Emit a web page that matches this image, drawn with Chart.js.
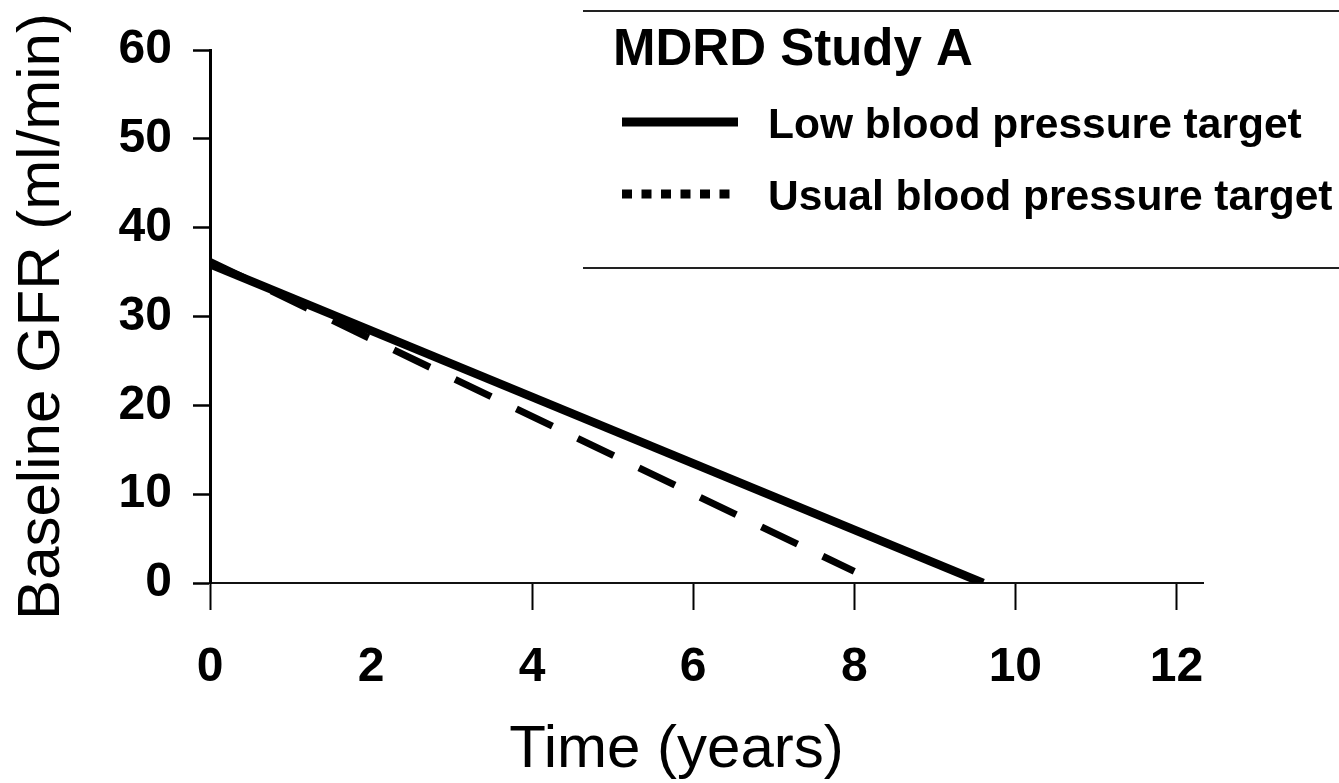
<!DOCTYPE html>
<html>
<head>
<meta charset="utf-8">
<script src="https://cdn.jsdelivr.net/npm/chart.js@4.4.1/dist/chart.umd.min.js"></script>
<style>
  body { margin: 0; background: #fff; }
  canvas { display: block; }
</style>
</head>
<body>
<canvas id="gfrChart" width="1339" height="783"></canvas>
<script>
// GFR decline over time, two blood pressure targets
const lowYears = [0, 9.6];
const lowGfr = [35.9, 0];
const usualYears = [0, 8.0];
const usualGfr = [36.2, 1.3];
const xTicks = [0, 2, 4, 6, 8, 10, 12];
const yTicks = [0, 10, 20, 30, 40, 50, 60];
const seriesLabels = ['Low blood pressure target', 'Usual blood pressure target'];
const legendTitle = 'MDRD Study A';

const FONT = '"Liberation Sans", Arial, sans-serif';

function toPoints(xs, ys) {
    return xs.map((x, i) => ({ x: x, y: ys[i] }));
}

// boxed legend in the upper right: title, solid sample, dotted sample
const legendBox = {
    id: 'legendBox',
    afterDraw(chart) {
        const ctx = chart.ctx;
        ctx.save();
        ctx.strokeStyle = '#222';
        ctx.lineWidth = 2;
        ctx.beginPath();
        ctx.moveTo(583, 11); ctx.lineTo(1339, 11);
        ctx.moveTo(583, 268); ctx.lineTo(1339, 268);
        ctx.stroke();

        ctx.fillStyle = '#000';
        ctx.textBaseline = 'alphabetic';
        ctx.font = 'bold 51px ' + FONT;
        ctx.fillText(legendTitle, 613, 65);

        const rows = [
            { y: 122, base: 138, dash: [] },
            { y: 194, base: 210, dash: [10, 9.5] }
        ];
        ctx.font = 'bold 42.5px ' + FONT;
        chart.data.datasets.forEach((ds, i) => {
            const r = rows[i];
            ctx.strokeStyle = '#000';
            ctx.lineWidth = 9;
            ctx.lineCap = 'butt';
            ctx.setLineDash(r.dash);
            ctx.beginPath();
            ctx.moveTo(622, r.y);
            ctx.lineTo(738, r.y);
            ctx.stroke();
            ctx.setLineDash([]);
            ctx.fillText(ds.label, 768, r.base);
        });
        ctx.restore();
    }
};

const chart = new Chart(document.getElementById('gfrChart').getContext('2d'), {
    type: 'line',
    data: {
        datasets: [{
            label: seriesLabels[0],
            data: toPoints(lowYears, lowGfr),
            borderColor: '#000',
            borderWidth: 8.5,
            pointRadius: 0,
            tension: 0
        }, {
            label: seriesLabels[1],
            data: toPoints(usualYears, usualGfr),
            borderColor: '#000',
            borderWidth: 7,
            borderDash: [40, 28],
            pointRadius: 0,
            tension: 0
        }]
    },
    options: {
        responsive: false,
        animation: false,
        layout: {
            padding: { top: 50, right: 136, left: 0, bottom: 0 }
        },
        plugins: {
            legend: { display: false },
            tooltip: { enabled: false }
        },
        scales: {
            x: {
                type: 'linear',
                min: 0,
                max: 12.33,
                afterBuildTicks: scale => { scale.ticks = xTicks.map(v => ({ value: v })); },
                afterFit: scale => { scale.height = 200; },
                border: { display: true, color: '#111', width: 2 },
                grid: {
                    drawOnChartArea: false,
                    drawTicks: true,
                    tickLength: 27,
                    tickWidth: 2,
                    tickColor: c => (c.tick && c.tick.value === 2) ? 'rgba(0,0,0,0)' : '#000'
                },
                ticks: {
                    color: '#000',
                    padding: 29,
                    maxRotation: 0,
                    font: { family: FONT, size: 48, weight: 'bold' }
                },
                title: {
                    display: true,
                    // trailing em space nudges the centred title left of the axis middle
                    text: 'Time (years)\u2003',
                    color: '#000',
                    padding: { top: 3, bottom: 3 },
                    font: { family: FONT, size: 60, lineHeight: 1 }
                }
            },
            y: {
                min: 0,
                max: 60,
                afterBuildTicks: scale => { scale.ticks = yTicks.map(v => ({ value: v })); },
                afterFit: scale => { scale.width = 210; },
                border: { display: true, color: '#000', width: 3 },
                grid: {
                    drawOnChartArea: false,
                    drawTicks: true,
                    tickLength: 17,
                    tickWidth: 2.5,
                    tickColor: '#000'
                },
                ticks: {
                    color: '#000',
                    padding: 21,
                    font: { family: FONT, size: 48, weight: 'bold' }
                },
                title: {
                    display: true,
                    text: 'Baseline GFR (ml/min)',
                    color: '#000',
                    padding: { top: 12, bottom: 0 },
                    font: { family: FONT, size: 60, lineHeight: 1 }
                }
            }
        }
    },
    plugins: [legendBox]
});
</script>
</body>
</html>
